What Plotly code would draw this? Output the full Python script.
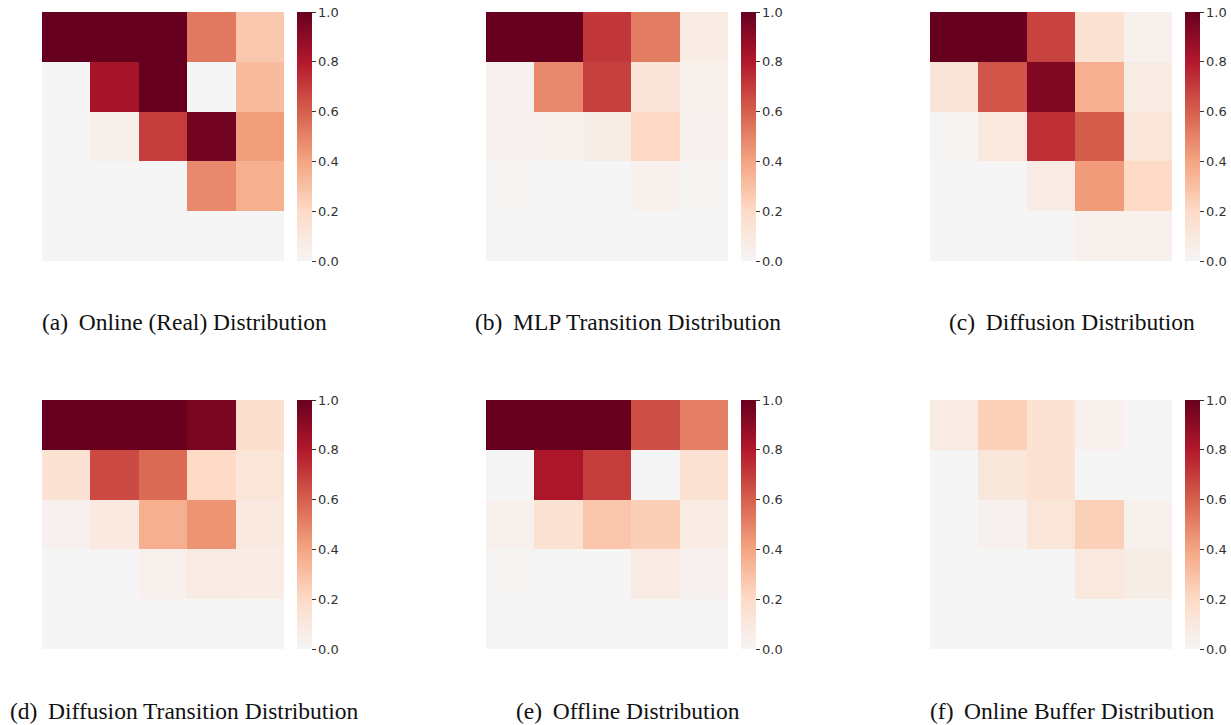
import plotly.graph_objects as go

W, H = 1231, 725

captions = [
    "(a)\u2009 Online (Real) Distribution",
    "(b)\u2009 MLP Transition Distribution",
    "(c)\u2009 Diffusion Distribution",
    "(d)\u2009 Diffusion Transition Distribution",
    "(e)\u2009 Offline Distribution",
    "(f)\u2009 Online Buffer Distribution",
]

online_real = [
    [1.00, 1.00, 1.00, 0.53, 0.27],
    [0.00, 0.83, 1.00, 0.00, 0.32],
    [0.00, 0.05, 0.70, 0.97, 0.42],
    [0.00, 0.00, 0.00, 0.48, 0.36],
    [0.00, 0.00, 0.00, 0.00, 0.00],
]
mlp_transition = [
    [1.00, 1.00, 0.71, 0.52, 0.07],
    [0.03, 0.48, 0.69, 0.13, 0.04],
    [0.03, 0.04, 0.06, 0.21, 0.03],
    [0.01, 0.00, 0.00, 0.04, 0.01],
    [0.00, 0.00, 0.00, 0.00, 0.00],
]
diffusion = [
    [1.00, 1.00, 0.68, 0.15, 0.04],
    [0.13, 0.63, 0.93, 0.36, 0.08],
    [0.01, 0.10, 0.74, 0.61, 0.12],
    [0.00, 0.00, 0.08, 0.43, 0.20],
    [0.00, 0.00, 0.00, 0.04, 0.04],
]
diffusion_transition = [
    [1.00, 1.00, 1.00, 0.95, 0.18],
    [0.15, 0.66, 0.57, 0.20, 0.12],
    [0.03, 0.09, 0.36, 0.45, 0.09],
    [0.00, 0.00, 0.04, 0.08, 0.07],
    [0.00, 0.00, 0.00, 0.00, 0.00],
]
offline = [
    [1.00, 1.00, 1.00, 0.65, 0.51],
    [0.00, 0.82, 0.70, 0.00, 0.15],
    [0.04, 0.15, 0.28, 0.25, 0.07],
    [0.01, 0.00, 0.00, 0.08, 0.03],
    [0.00, 0.00, 0.00, 0.00, 0.00],
]
online_buffer = [
    [0.08, 0.24, 0.15, 0.04, 0.00],
    [0.00, 0.11, 0.15, 0.00, 0.00],
    [0.00, 0.03, 0.12, 0.24, 0.04],
    [0.00, 0.00, 0.00, 0.10, 0.06],
    [0.00, 0.00, 0.00, 0.00, 0.00],
]

matrices = [online_real, mlp_transition, diffusion,
            diffusion_transition, offline, online_buffer]

tick_vals = [0, 0.2, 0.4, 0.6, 0.8, 1.0]
tick_text = ["0.0", "0.2", "0.4", "0.6", "0.8", "1.0"]

colorscale = [
    [0.0, "#f5f5f5"],
    [0.2, "#fddbc7"],
    [0.4, "#f4a582"],
    [0.6, "#d6604d"],
    [0.8, "#b2182b"],
    [1.0, "#67001f"],
]

# pixel layout
col_left = [42, 486, 930]
panel_w = 242
row_top = [12, 400]
panel_h = 249
cb_offset = 255
cap_center = [184, 628, 1072]
cap_y = [322, 711]

fig = go.Figure()
for i, z in enumerate(matrices):
    r, c = divmod(i, 3)
    ax = "" if i == 0 else str(i + 1)
    x0 = col_left[c] / W
    x1 = (col_left[c] + panel_w) / W
    y1 = 1 - row_top[r] / H
    y0 = 1 - (row_top[r] + panel_h) / H
    fig.add_trace(go.Heatmap(
        z=z, x=list(range(5)), y=list(range(5)),
        xaxis="x" + ax, yaxis="y" + ax,
        colorscale=colorscale, zmin=0, zmax=1,
        colorbar=dict(
            x=(col_left[c] + cb_offset) / W, xanchor="left", xpad=0,
            y=(y0 + y1) / 2, yanchor="middle", ypad=0,
            lenmode="pixels", len=panel_h,
            thicknessmode="pixels", thickness=15,
            outlinewidth=0,
            tickvals=tick_vals, ticktext=tick_text,
            ticks="outside", ticklen=4, tickwidth=1, tickcolor="#333333",
            tickfont=dict(family="DejaVu Sans", size=13, color="#333333"),
        ),
        hoverinfo="z",
    ))
    fig.update_layout(**{
        "xaxis" + ax: dict(domain=[x0, x1], visible=False,
                           range=[-0.5, 4.5], anchor="y" + ax),
        "yaxis" + ax: dict(domain=[y0, y1], visible=False,
                           range=[4.5, -0.5], anchor="x" + ax),
    })
    fig.add_annotation(
        text=captions[i], xref="paper", yref="paper",
        x=cap_center[c] / W, y=1 - cap_y[r] / H,
        xanchor="center", yanchor="middle", showarrow=False,
        font=dict(family="Liberation Serif", size=23.5, color="#111111"),
    )

fig.update_layout(
    width=W, height=H,
    margin=dict(l=0, r=0, t=0, b=0),
    paper_bgcolor="white", plot_bgcolor="white",
    showlegend=False,
)

fig.write_html("out.html",
               config={"displayModeBar": False},
               post_script="document.body.style.margin='0';"
                           "document.body.style.overflow='hidden';")
